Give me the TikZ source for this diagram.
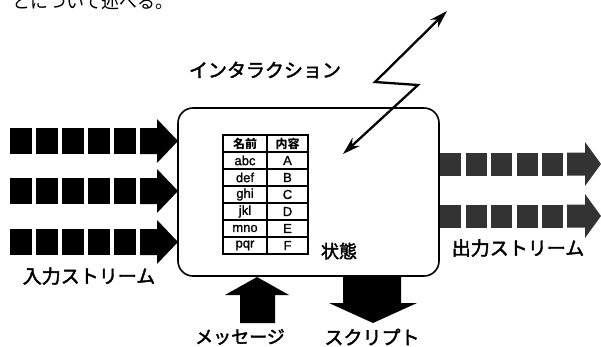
\documentclass[tikz,border=0pt]{standalone}
\usepackage{fontspec}
\setmainfont{Liberation Sans}
\newfontfamily\jp{Noto Sans CJK JP}
\newfontfamily\jpm[FakeBold=2.2]{Noto Sans CJK JP}
\newfontfamily\lsm[FakeBold=1.2]{Liberation Sans}
\usetikzlibrary{arrows.meta}
\begin{document}
\begin{tikzpicture}[x=1pt,y=-1pt,
  jlabel/.style={font=\jpm\fontsize{19}{19}\selectfont, inner sep=0pt},
  cell/.style={font=\lsm\fontsize{13}{13}\selectfont, inner sep=0pt},
  hcell/.style={font=\jp\bfseries\fontsize{12}{12}\selectfont, inner sep=0pt},
  inblk/.style={fill=black},
  outblk/.style={fill=black!80},
  bigarrow/.style={fill=black},
  zap/.style={line width=2.3pt, {Stealth[length=18pt,width=11pt]}-{Stealth[length=18pt,width=11pt]}}
]
\useasboundingbox (0,0) rectangle (601,346);

% cut-off text at top
\node[anchor=base west, inner sep=0pt, font=\jp\fontsize{18}{18}\selectfont] (toptext) at (12,8) {とについて述べる。};

% main state box
\node[draw, line width=1.6pt, rounded corners=15pt, minimum width=261pt, minimum height=168pt, inner sep=0pt] (state) at (308.5,192) {};

% input streams
\foreach \c in {141,191,242}{
  \foreach \i in {0,...,4}{
    \fill[inblk] (10+26*\i,\c-13) rectangle (32+26*\i,\c+13);
  }
  \fill[inblk] (140,\c-13) -- (157,\c-13) -- (157,\c-22) -- (178,\c) -- (157,\c+22) -- (157,\c+13) -- (140,\c+13) -- cycle;
}
\node[jlabel] (inlabel) at (89,276) {入力ストリーム};

% output streams
\foreach \c in {164,216}{
  \foreach \i in {0,...,4}{
    \fill[outblk] (440+25.5*\i,\c-11.5) rectangle (461+25.5*\i,\c+11.5);
  }
  \fill[outblk] (567,\c-11.5) -- (585,\c-11.5) -- (585,\c-22) -- (601,\c) -- (585,\c+22) -- (585,\c+11.5) -- (567,\c+11.5) -- cycle;
}
\node[jlabel] (outlabel) at (518,248) {出力ストリーム};

% table
\draw[line width=1.3pt] (223,135) rectangle (308,254);
\draw[line width=1.3pt] (267,135) -- (267,254);
\foreach \y in {152,169,186,203,220,237}{
  \draw[line width=1.6pt] (223,\y) -- (308,\y);
}
\node[hcell] (h1) at (245,144) {名前};
\node[hcell] (h2) at (287.5,144) {内容};
\foreach \n/\a/\b [count=\k] in {r1/abc/A,r2/def/B,r3/ghi/C,r4/jkl/D,r5/mno/E,r6/pqr/F}{
  \node[cell] (\n l) at (245,152+17*\k-8.5) {\a};
  \node[cell] (\n r) at (287.5,152+17*\k-8.5) {\b};
}
\node[font=\jpm\fontsize{18}{18}\selectfont, inner sep=0pt] (joutai) at (339,251) {状態};

% interaction
\node[jlabel] (inter) at (265,70) {インタラクション};
\coordinate (z0) at (447,11);
\coordinate (z1) at (375,82);
\coordinate (z2) at (418,85);
\coordinate (z3) at (343,154);
\draw[zap] (z0) -- (z1) -- (z2) -- (z3);

% message (up arrow)
\fill[bigarrow] (240,323) -- (240,295) -- (225,295) -- (257,277) -- (289,295) -- (275,295) -- (275,323) -- cycle;
\node[jlabel, font=\jpm\fontsize{18}{18}\selectfont] (msg) at (240,337) {メッセージ};

% script (down arrow)
\fill[bigarrow] (343,276) -- (401,276) -- (401,303) -- (417,303) -- (373,323) -- (329,303) -- (343,303) -- cycle;
\node[jlabel] (script) at (372,337) {スクリプト};
\end{tikzpicture}
\end{document}
